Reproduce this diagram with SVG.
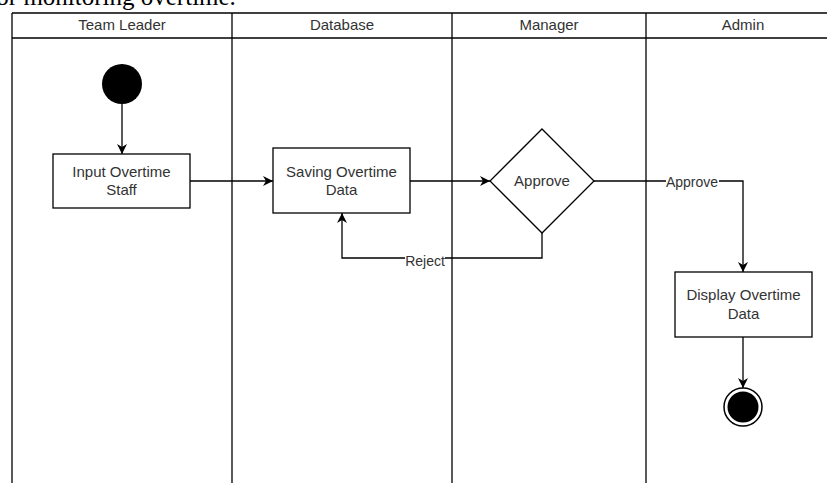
<svg xmlns="http://www.w3.org/2000/svg" width="827" height="483" viewBox="0 0 827 483">
<style>
.lane{stroke:#000;stroke-width:1.3;fill:none}
.node{fill:#fff;stroke:#000;stroke-width:1.3}
.txt{font-family:"Liberation Sans",Arial,sans-serif;font-size:15px;fill:#333;text-anchor:middle}
.lbl{font-family:"Liberation Sans",Arial,sans-serif;font-size:14px;fill:#333;text-anchor:middle}
.edge{stroke:#000;stroke-width:1.3;fill:none}
.doc{font-family:"Liberation Serif","Times New Roman",serif;font-size:25px;fill:#000}
</style>
<defs>
<marker id="arr" viewBox="0 0 10 10" refX="10" refY="5" markerWidth="10" markerHeight="10" markerUnits="userSpaceOnUse" orient="auto">
<path d="M0,0 L10,5 L0,10 L3,5 z" fill="#000"/>
</marker>
</defs>
<rect width="827" height="483" fill="#fff"/>
<text class="doc" x="-12" y="5">for monitoring overtime.</text>
<g id="pool">
<line class="lane" x1="12" y1="13" x2="827" y2="13"/>
<line class="lane" x1="12" y1="38" x2="827" y2="38"/>
<line class="lane" x1="12" y1="13" x2="12" y2="483"/>
<line class="lane" x1="232" y1="13" x2="232" y2="483"/>
<line class="lane" x1="452" y1="13" x2="452" y2="483"/>
<line class="lane" x1="646" y1="13" x2="646" y2="483"/>
<text class="txt" x="122" y="30">Team Leader</text>
<text class="txt" x="342" y="30">Database</text>
<text class="txt" x="549" y="30">Manager</text>
<text class="txt" x="743" y="30">Admin</text>
</g>
<g id="edges">
<line class="edge" x1="122" y1="104" x2="122" y2="154" marker-end="url(#arr)"/>
<line class="edge" x1="190" y1="181" x2="273" y2="181" marker-end="url(#arr)"/>
<line class="edge" x1="410" y1="181" x2="490" y2="181" marker-end="url(#arr)"/>
<path class="edge" d="M594,181 H743 V272" marker-end="url(#arr)"/>
<rect x="666" y="174" width="53" height="16" fill="#fff"/>
<text class="lbl" x="692" y="187">Approve</text>
<path class="edge" d="M542,233 V258 H342 V213" marker-end="url(#arr)"/>
<rect x="405" y="252" width="40" height="16" fill="#fff"/>
<text class="lbl" x="425" y="266">Reject</text>
<line class="edge" x1="743" y1="337" x2="743" y2="388" marker-end="url(#arr)"/>
</g>
<g id="start">
<circle cx="122" cy="84" r="20" fill="#000"/>
</g>
<g id="input">
<rect class="node" x="53" y="154" width="137" height="54"/>
<text class="txt" x="121.5" y="177">Input Overtime</text>
<text class="txt" x="121.5" y="195">Staff</text>
</g>
<g id="saving">
<rect class="node" x="273" y="148" width="137" height="65"/>
<text class="txt" x="341.5" y="177">Saving Overtime</text>
<text class="txt" x="341.5" y="195">Data</text>
</g>
<g id="approve">
<polygon class="node" points="542,129 594,181 542,233 490,181"/>
<text class="txt" x="542" y="186">Approve</text>
</g>
<g id="display">
<rect class="node" x="675" y="272" width="137" height="65"/>
<text class="txt" x="743.5" y="300">Display Overtime</text>
<text class="txt" x="743.5" y="319">Data</text>
</g>
<g id="end">
<circle cx="743" cy="407" r="19" fill="#fff" stroke="#000" stroke-width="1.5"/>
<circle cx="743" cy="407" r="15.5" fill="#000"/>
</g>
</svg>
